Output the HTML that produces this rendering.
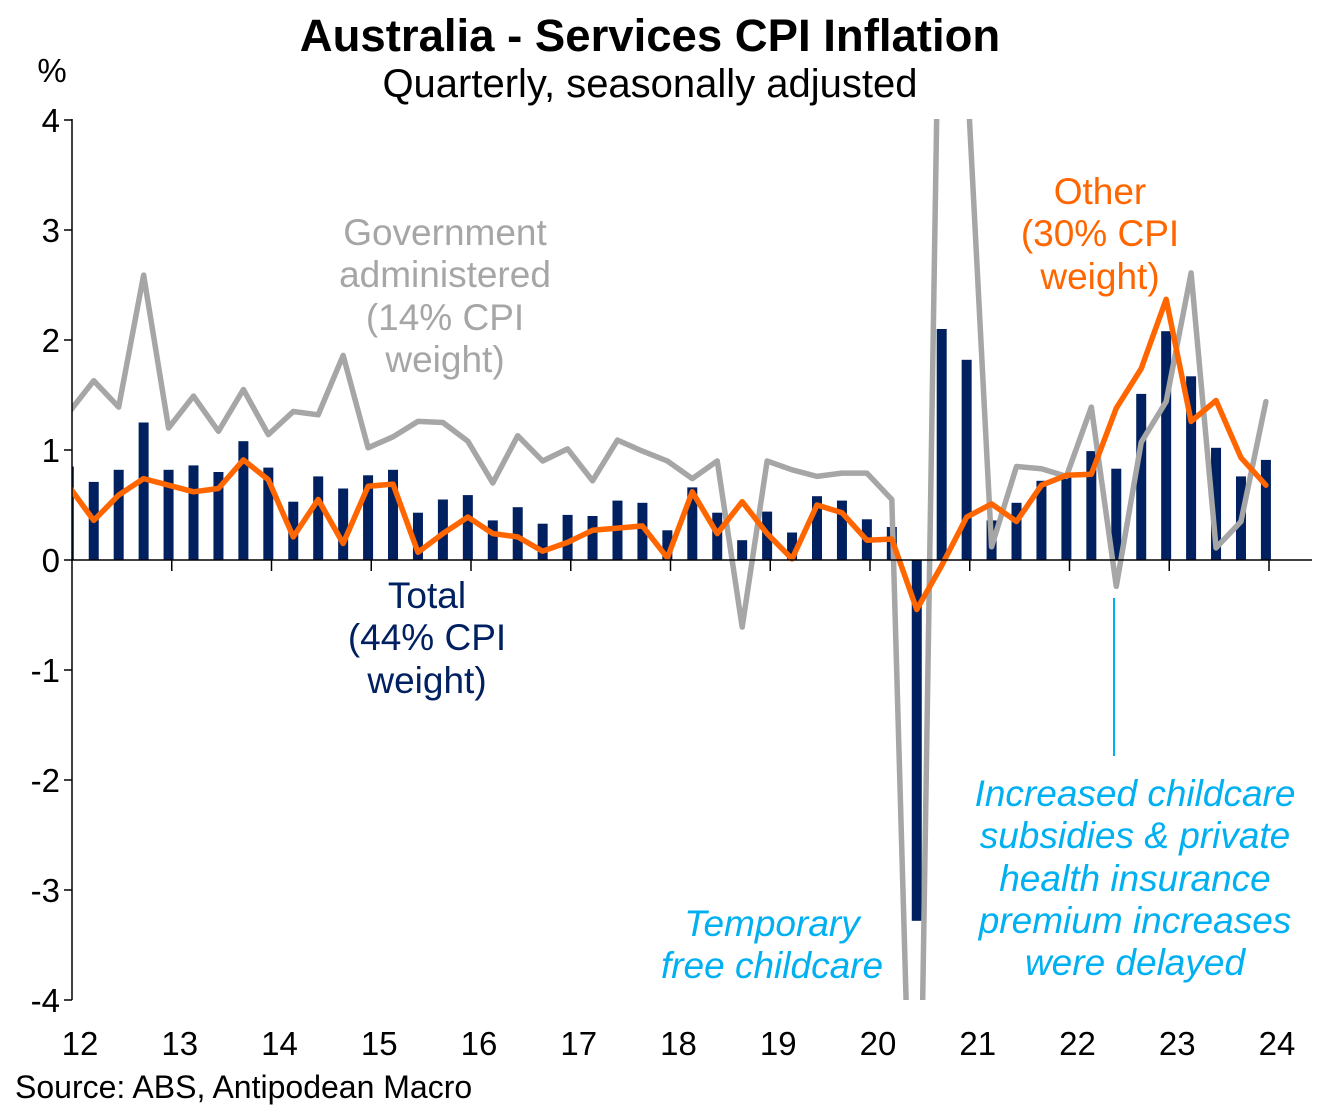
<!DOCTYPE html>
<html><head><meta charset="utf-8"><style>
html,body{margin:0;padding:0;background:#fff;overflow:hidden;width:1339px;height:1115px;}
svg{display:block;font-family:"Liberation Sans",Arial,sans-serif;overflow:hidden;}
</style></head><body>
<svg id="chart" width="1339" height="1115" viewBox="0 0 1339 1115">
<defs><clipPath id="plotclip"><rect x="72" y="119" width="1240" height="881"/></clipPath></defs>
<text x="650" y="51" text-anchor="middle" font-size="45.5" font-weight="bold">Australia  - Services CPI Inflation</text>
<text x="650" y="97" text-anchor="middle" font-size="40">Quarterly, seasonally adjusted</text>
<text x="52" y="82" text-anchor="middle" font-size="33">%</text>
<g id="bars" clip-path="url(#plotclip)"></g>
<g id="lines" clip-path="url(#plotclip)"></g>
<g id="axes"></g>
<g>
<text font-size="37" fill="#a6a6a6" text-anchor="middle"><tspan x="445" y="245">Government</tspan><tspan x="445" y="287">administered</tspan><tspan x="445" y="330">(14% CPI</tspan><tspan x="445" y="372">weight)</tspan></text>
<text font-size="37" fill="#ff6600" text-anchor="middle"><tspan x="1100" y="204">Other</tspan><tspan x="1100" y="246">(30% CPI</tspan><tspan x="1100" y="289">weight)</tspan></text>
<text font-size="37" fill="#002060" text-anchor="middle"><tspan x="427" y="608">Total</tspan><tspan x="427" y="650">(44% CPI</tspan><tspan x="427" y="693">weight)</tspan></text>
<text font-size="37" fill="#00b0f0" font-style="italic" text-anchor="middle"><tspan x="772" y="936">Temporary</tspan><tspan x="772" y="978">free childcare</tspan></text>
<text font-size="37" fill="#00b0f0" font-style="italic" text-anchor="middle"><tspan x="1135" y="806">Increased childcare</tspan><tspan x="1135" y="848">subsidies &amp; private</tspan><tspan x="1135" y="891">health insurance</tspan><tspan x="1135" y="933">premium increases</tspan><tspan x="1135" y="975">were delayed</tspan></text>
<line x1="1114" y1="598" x2="1114" y2="756" stroke="#00b0f0" stroke-width="2"/>
</g>
<text x="15" y="1098" font-size="32">Source: ABS, Antipodean  Macro</text>
</svg>
<script>
const total=[0.85,0.71,0.82,1.25,0.82,0.86,0.80,1.08,0.84,0.53,0.76,0.65,0.77,0.82,0.43,0.55,0.59,0.36,0.48,0.33,0.41,0.40,0.54,0.52,0.27,0.66,0.43,0.18,0.44,0.25,0.58,0.54,0.37,0.30,-3.28,2.10,1.82,0.36,0.52,0.72,0.76,0.99,0.83,1.51,2.08,1.67,1.02,0.76,0.91];
const other=[0.67,0.36,0.59,0.74,0.68,0.62,0.65,0.91,0.73,0.21,0.55,0.15,0.67,0.69,0.07,0.24,0.39,0.24,0.21,0.08,0.16,0.27,0.29,0.31,0.02,0.62,0.24,0.53,0.24,0.01,0.50,0.43,0.18,0.19,-0.45,-0.05,0.39,0.51,0.35,0.68,0.77,0.78,1.38,1.74,2.37,1.26,1.45,0.93,0.68];
const govt=[1.34,1.63,1.39,2.59,1.20,1.49,1.17,1.55,1.14,1.35,1.32,1.86,1.02,1.12,1.26,1.25,1.08,0.70,1.13,0.90,1.01,0.72,1.09,0.99,0.90,0.74,0.90,-0.61,0.90,0.82,0.76,0.79,0.79,0.55,-7.4,6.9,4.5,0.12,0.85,0.83,0.76,1.39,-0.24,1.07,1.44,2.61,0.11,0.35,1.44];
const yTicks=[4,3,2,1,0,-1,-2,-3,-4];
const xYears=["12","13","14","15","16","17","18","19","20","21","22","23","24"];
const NS="http://www.w3.org/2000/svg";
function xq(i){return 68.8+i*24.94;}
function yv(v){return 560-v*110;}
function xy(j){return 72+j*99.75;}
function mk(tag,attrs,parent){const e=document.createElementNS(NS,tag);for(const k in attrs)e.setAttribute(k,attrs[k]);parent.appendChild(e);return e;}
const bars=document.getElementById('bars'),lines=document.getElementById('lines'),axes=document.getElementById('axes');
total.forEach((v,i)=>{const y0=yv(0),y1=yv(v);
const r=mk('rect',{x:xq(i)-5,y:Math.min(y0,y1),width:10,height:Math.abs(y1-y0),fill:'#002060'},bars);

});
function line(arr,col,name){const p=mk('polyline',{points:arr.map((v,i)=>xq(i)+','+yv(v)).join(' '),fill:'none',stroke:col,'stroke-width':5.5,'stroke-linejoin':'round','stroke-linecap':'round'},lines);

}
line(govt,'#a6a6a6','government-line');
line(other,'#ff6600','other-line');
const ya=mk('line',{x1:72,y1:119,x2:72,y2:1000,stroke:'#000','stroke-width':1.5},axes);


const xa=mk('line',{x1:72,y1:560,x2:1312,y2:560,stroke:'#000','stroke-width':1.5},axes);


yTicks.forEach(t=>{mk('line',{x1:64,y1:yv(t),x2:72,y2:yv(t),stroke:'#000','stroke-width':1.5},axes);
const tx=mk('text',{x:60,y:yv(t)+12,'text-anchor':'end','font-size':33},axes);tx.textContent=t;

});
xYears.forEach((l,j)=>{if(j>0)mk('line',{x1:xy(j),y1:560,x2:xy(j),y2:571,stroke:'#000','stroke-width':1.5},axes);
const tx=mk('text',{x:xy(j)+8,y:1055,'text-anchor':'middle','font-size':33},axes);tx.textContent=l;

});
</script>
</body></html>
